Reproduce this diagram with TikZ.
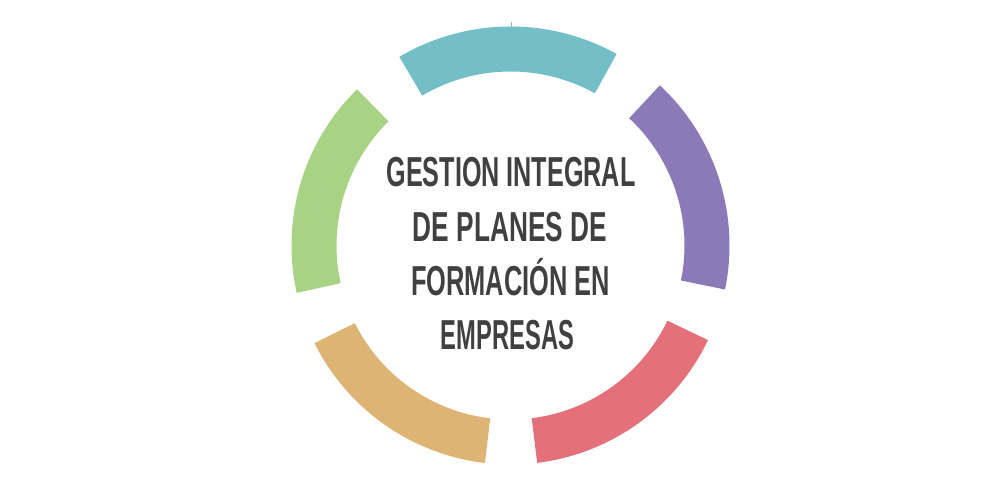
\documentclass[tikz,border=0pt]{standalone}
\usepackage{fontspec}
\setmainfont{Liberation Sans}
\usepackage{graphicx}
\definecolor{cteal}{HTML}{74BFC7}
\definecolor{cgreen}{HTML}{A8D384}
\definecolor{corange}{HTML}{DDB473}
\definecolor{cred}{HTML}{E4717A}
\definecolor{cpurple}{HTML}{8C7AB8}
\definecolor{ctext}{HTML}{404040}
\tikzset{
  titleline/.style={anchor=base, inner sep=0pt, text=ctext,
    font=\fontsize{41.9pt}{50pt}\selectfont\bfseries},
}
\newcommand{\ringseg}[3]{%
  \fill[#1] (#2:219pt) arc[start angle=#2, end angle=#3, radius=219pt]
    -- (#3:174pt) arc[start angle=#3, end angle=#2, radius=174pt] -- cycle;}
\begin{document}
\begin{tikzpicture}
\useasboundingbox[fill=white] (0pt,0pt) rectangle (1000pt,500pt);
\coordinate (c) at (510.5pt,254.5pt);
\begin{scope}[shift={(c)}]
  \ringseg{cteal}{61}{120.5}
  \ringseg{cgreen}{134.5}{192.5}
  \ringseg{corange}{206.5}{263.3}
  \ringseg{cred}{277}{334.4}
  \ringseg{cpurple}{348.4}{407}
  \coordinate (t1) at (0.5pt,218pt);
  \coordinate (t2) at (0.5pt,223pt);
\end{scope}
\draw[cteal, line width=0.8pt] (t1) -- (t2);
\node[titleline] (l1) at (511pt,313pt) {\scalebox{0.601}[1]{GESTION INTEGRAL}};
\node[titleline] (l2) at (510pt,258pt) {\scalebox{0.627}[1]{DE PLANES DE}};
\node[titleline] (l3) at (510.5pt,204pt) {\scalebox{0.606}[1]{FORMACIÓN EN}};
\node[titleline] (l4) at (507.5pt,150pt) {\scalebox{0.566}[1]{EMPRESAS}};
\end{tikzpicture}
\end{document}
